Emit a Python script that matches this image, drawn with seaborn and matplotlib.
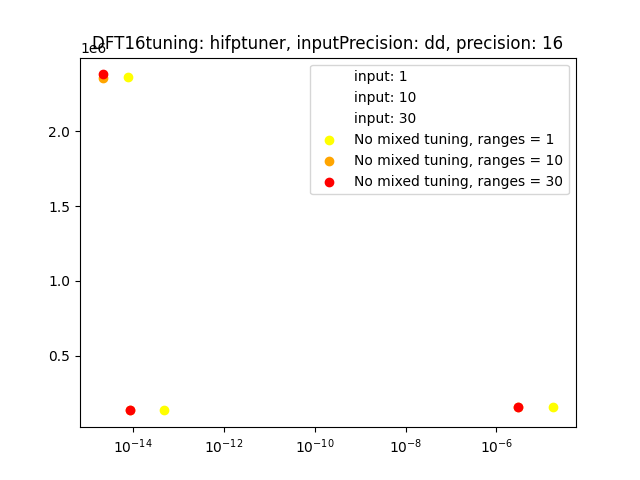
import matplotlib
matplotlib.use("Agg")
import matplotlib.pyplot as plt
import seaborn as sns
import pandas as pd

inputs = [1, 10, 30]
colors = ["yellow", "orange", "red"]

x_r1 = [7.5e-15, 4.8e-14, 1.81e-5]
y_r1 = [2.367e6, 0.133e6, 0.158e6]

x_r10 = [2.1e-15, 8.6e-15, 3.07e-6]
y_r10 = [2.356e6, 0.133e6, 0.158e6]

x_r30 = [2.1e-15, 8.6e-15, 3.07e-6]
y_r30 = [2.382e6, 0.133e6, 0.158e6]

series = {1: (x_r1, y_r1), 10: (x_r10, y_r10), 30: (x_r30, y_r30)}

fig, ax = plt.subplots(figsize=(6.4, 4.8), dpi=100)

for inp in inputs:
    ax.scatter([], [], color="white", label=f"input: {inp}")

for inp, col in zip(inputs, colors):
    xs, ys = series[inp]
    df = pd.DataFrame({"x": xs, "y": ys})
    sns.scatterplot(data=df, x="x", y="y", color=col, s=36, linewidth=1,
                    edgecolor="face",
                    label=f"No mixed tuning, ranges = {inp}", ax=ax)

ax.set_xscale("log")
ax.set_xlabel("")
ax.set_ylabel("")
ax.set_title("DFT16tuning: hifptuner, inputPrecision: dd, precision: 16", y=1.0)
ax.legend(loc="upper right")

fig.savefig("out.png")
